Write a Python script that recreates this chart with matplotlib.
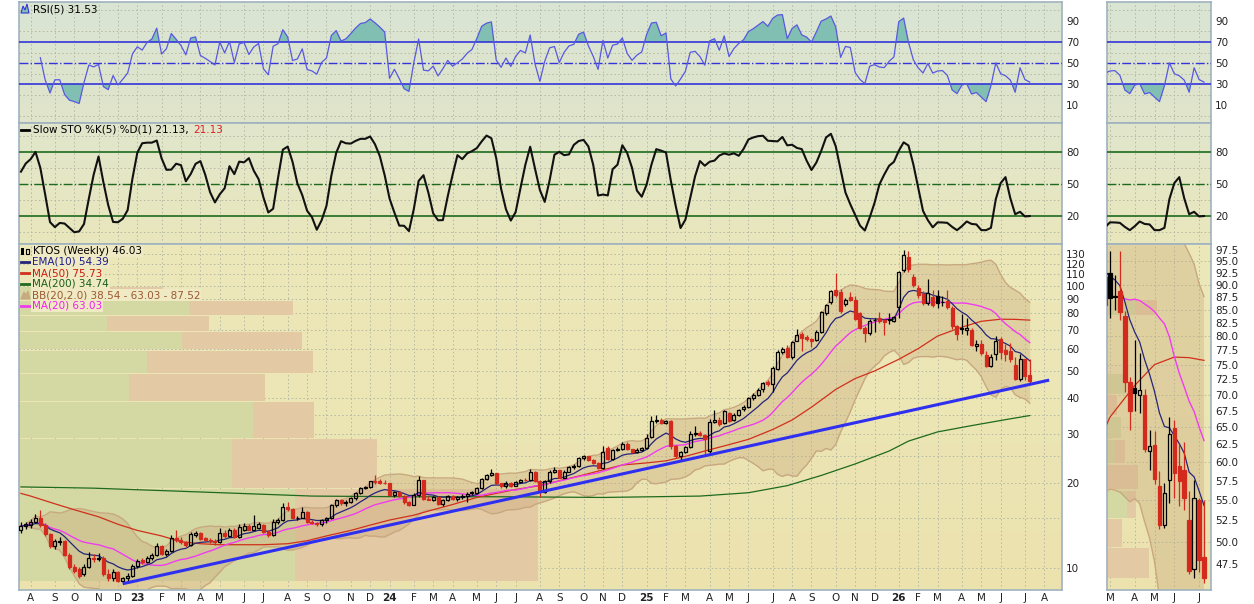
import matplotlib
matplotlib.use("Agg")
import matplotlib.pyplot as plt
import matplotlib.colors as mcolors
import matplotlib.transforms as mtransforms
from matplotlib.lines import Line2D
from matplotlib.patches import Rectangle, Polygon
from matplotlib.ticker import NullLocator
import numpy as np
import pandas as pd

plt.rcParams["font.family"] = ["DejaVu Sans"]

W, H = 1254, 604

# KTOS weekly bars, first bar = week of 2022-07-18
first_week = "2022-07-18"
opens = [
    13.6, 14.1, 14.2, 14.6, 15.1, 14.2, 13.2, 12.0, 12.4, 12.5,
    11.1, 10.1, 9.9, 9.5, 10.1, 10.9, 10.8, 10.9, 9.5, 9.2,
    9.7, 9.0, 9.2, 9.4, 10.2, 10.7, 10.5, 10.9, 11.1, 12.0,
    11.2, 11.5, 12.8, 12.6, 12.4, 12.1, 13.1, 13.3, 12.8, 12.6,
    12.5, 12.4, 13.3, 13.0, 13.6, 12.9, 13.6, 14.1, 13.7, 13.9,
    14.2, 13.4, 13.1, 14.6, 14.8, 16.5, 16.2, 15.0, 15.1, 15.8,
    14.6, 14.5, 14.3, 14.8, 15.0, 16.7, 17.4, 17.0, 17.2, 17.7,
    18.4, 19.2, 19.4, 20.4, 20.3, 20.1, 20.0, 18.2, 18.6, 18.0,
    17.1, 16.8, 18.1, 20.5, 17.6, 17.5, 17.9, 16.9, 17.4, 18.0,
    17.6, 17.8, 18.0, 18.6, 18.5, 19.2, 20.7, 21.4, 21.7, 20.0,
    19.5, 20.1, 19.6, 20.2, 20.6, 20.5, 22.0, 20.4, 18.6, 20.3,
    22.0, 22.2, 20.9, 22.0, 22.8, 23.0, 24.5, 24.9, 24.2, 23.6,
    22.7, 26.6, 24.3, 26.3, 26.5, 27.6, 26.4, 25.8, 26.3, 26.6,
    29.2, 33.2, 33.6, 32.6, 33.3, 27.0, 24.9, 25.8, 26.8, 30.0,
    30.2, 29.6, 26.0, 33.0, 33.6, 32.6, 35.6, 33.4, 35.0, 36.6,
    37.3, 40.0, 41.2, 43.0, 45.6, 45.0, 51.0, 58.5, 60.3, 56.0,
    64.0, 67.4, 65.8, 64.8, 64.3, 68.8, 80.0, 87.5, 97.0, 95.5,
    86.5, 91.8, 89.4, 80.0, 71.3, 68.2, 75.5, 77.2, 75.6, 75.5,
    75.4, 84.5, 114.0, 127.0, 108.0, 98.8, 94.0, 87.0, 91.6, 92.5,
    87.8, 88.7, 83.9, 72.0, 71.1, 70.0, 70.0, 61.5, 62.4, 56.8,
    52.0, 57.6, 64.8, 59.5, 58.9, 52.5, 47.0, 55.0, 48.3,
]
highs = [
    14.6, 14.6, 14.9, 15.5, 16.1, 14.4, 13.3, 12.7, 12.9, 12.6,
    11.3, 10.3, 10.1, 10.3, 11.4, 11.2, 11.3, 11.0, 9.9, 9.9,
    9.8, 9.3, 9.6, 10.3, 10.8, 10.9, 11.0, 11.3, 12.3, 12.1,
    11.7, 13.1, 13.6, 12.9, 12.5, 13.4, 13.5, 13.4, 12.9, 12.8,
    12.7, 13.9, 13.6, 13.9, 13.9, 14.3, 14.4, 14.3, 15.4, 14.6,
    14.3, 13.6, 14.9, 15.0, 17.0, 17.2, 16.3, 15.3, 16.4, 15.9,
    14.8, 14.6, 14.9, 15.2, 16.9, 17.6, 17.6, 17.5, 17.9, 18.6,
    19.4, 19.6, 20.4, 21.3, 20.7, 20.5, 20.1, 18.8, 18.8, 18.1,
    17.3, 18.4, 21.2, 20.6, 18.0, 18.0, 18.0, 17.6, 18.1, 18.2,
    18.0, 18.3, 18.6, 18.8, 19.4, 20.8, 21.5, 22.4, 21.8, 20.1,
    20.3, 20.2, 20.4, 20.7, 20.9, 22.4, 22.1, 20.5, 20.5, 22.2,
    22.8, 22.3, 22.2, 23.1, 23.3, 24.8, 25.2, 25.0, 24.3, 23.7,
    27.2, 27.0, 26.5, 26.8, 28.0, 27.9, 26.5, 26.6, 26.9, 30.0,
    34.5, 35.0, 34.0, 33.6, 33.5, 27.4, 26.0, 27.2, 30.6, 31.8,
    30.7, 29.9, 33.8, 36.4, 34.3, 36.4, 35.8, 35.4, 36.8, 37.8,
    40.4, 41.6, 43.4, 45.6, 46.6, 52.0, 59.5, 61.0, 62.0, 64.0,
    70.2, 68.6, 67.0, 65.4, 70.0, 81.5, 86.5, 96.5, 111.0, 97.5,
    91.0, 95.0, 92.0, 81.0, 72.0, 76.4, 77.2, 80.8, 76.5, 80.5,
    78.6, 113.5, 134.0, 133.5, 110.0, 101.0, 96.0, 106.0, 97.0, 97.2,
    92.0, 97.2, 84.8, 72.9, 79.4, 77.0, 71.0, 64.6, 64.4, 58.8,
    57.2, 66.5, 66.0, 62.5, 62.8, 56.2, 57.6, 55.2, 55.0,
]
lows = [
    13.3, 13.8, 13.9, 14.4, 14.0, 13.0, 11.8, 11.7, 12.1, 11.0,
    9.9, 9.6, 9.2, 9.4, 10.0, 10.5, 10.6, 9.4, 9.0, 9.0,
    8.9, 8.8, 9.0, 9.3, 10.0, 10.3, 10.4, 10.7, 11.0, 11.1,
    11.0, 11.4, 12.4, 12.2, 11.9, 12.0, 12.9, 12.6, 12.4, 12.3,
    12.1, 12.3, 12.8, 12.9, 12.8, 12.8, 13.5, 13.6, 13.6, 13.8,
    13.3, 12.9, 13.0, 14.3, 14.7, 16.0, 14.9, 14.8, 15.0, 14.5,
    14.3, 14.1, 14.1, 14.5, 14.9, 16.5, 16.8, 16.6, 17.0, 17.5,
    18.3, 19.0, 19.2, 19.9, 19.9, 19.8, 18.0, 17.9, 17.8, 16.9,
    16.6, 16.7, 17.9, 17.5, 17.4, 17.3, 16.8, 16.6, 17.3, 17.4,
    17.3, 17.6, 17.2, 18.2, 18.3, 19.1, 20.5, 21.2, 19.9, 19.3,
    19.3, 19.4, 19.5, 20.0, 20.3, 20.4, 20.2, 17.9, 18.4, 20.1,
    21.7, 20.8, 20.8, 21.9, 22.5, 22.9, 24.2, 24.0, 23.4, 22.5,
    22.5, 24.1, 24.1, 26.0, 26.2, 26.2, 25.6, 25.6, 26.1, 26.4,
    29.0, 32.8, 32.4, 32.3, 26.5, 24.6, 24.0, 25.5, 26.6, 29.5,
    29.4, 25.4, 25.2, 32.6, 32.0, 32.4, 33.0, 33.2, 34.6, 36.2,
    37.0, 39.6, 40.6, 42.0, 44.4, 42.0, 50.5, 57.4, 55.5, 55.2,
    63.6, 59.0, 64.0, 60.6, 63.8, 68.2, 79.0, 86.4, 91.5, 80.5,
    85.0, 88.4, 76.0, 70.4, 63.2, 67.0, 69.0, 74.0, 67.0, 73.5,
    74.6, 77.0, 112.0, 112.5, 99.0, 90.5, 86.0, 86.0, 84.0, 83.5,
    85.0, 83.1, 70.5, 64.6, 67.4, 67.2, 61.4, 58.9, 57.0, 51.5,
    51.6, 54.6, 55.3, 54.2, 53.8, 46.4, 46.0, 46.6, 45.5,
]
closes = [
    14.1, 14.3, 14.6, 15.1, 14.2, 13.2, 12.0, 12.5, 12.5, 11.1,
    10.1, 9.8, 9.4, 10.1, 10.9, 10.8, 10.9, 9.5, 9.2, 9.7,
    9.0, 9.2, 9.4, 10.2, 10.6, 10.5, 10.9, 11.1, 12.0, 11.2,
    11.5, 12.8, 12.6, 12.4, 12.1, 13.2, 13.3, 12.7, 12.6, 12.5,
    12.4, 13.3, 13.0, 13.6, 12.9, 14.0, 14.1, 13.7, 14.1, 14.3,
    13.4, 13.1, 14.6, 14.8, 16.5, 16.2, 15.0, 15.1, 15.8, 14.6,
    14.5, 14.3, 14.8, 15.0, 16.7, 17.4, 17.0, 17.2, 17.7, 18.4,
    19.2, 19.4, 20.3, 20.2, 20.1, 20.0, 18.2, 18.6, 18.0, 17.1,
    16.8, 18.1, 20.5, 17.6, 17.5, 17.9, 16.9, 17.4, 18.0, 17.6,
    17.8, 18.0, 18.3, 18.5, 19.2, 20.7, 21.4, 21.7, 20.0, 19.5,
    20.1, 19.6, 20.2, 20.6, 20.5, 22.0, 20.4, 18.6, 20.3, 22.0,
    22.2, 20.9, 22.0, 22.8, 23.0, 24.5, 24.9, 24.2, 23.6, 22.7,
    25.9, 24.3, 26.3, 26.5, 27.6, 26.4, 25.8, 26.3, 26.6, 29.0,
    33.2, 33.6, 32.6, 33.3, 27.0, 24.9, 25.8, 26.8, 30.0, 30.2,
    29.6, 28.6, 33.0, 33.6, 32.4, 36.0, 33.2, 35.0, 36.3, 37.3,
    40.0, 41.2, 42.9, 45.2, 44.8, 51.2, 58.5, 59.8, 56.0, 63.2,
    67.2, 65.2, 64.8, 64.0, 68.8, 80.7, 85.6, 95.7, 92.8, 81.8,
    89.6, 89.2, 76.6, 71.3, 67.9, 75.3, 76.0, 75.0, 74.8, 76.5,
    77.7, 112.0, 129.0, 115.0, 100.8, 92.7, 87.4, 94.6, 86.0, 87.3,
    87.5, 84.6, 72.0, 67.4, 70.3, 70.8, 61.8, 62.2, 57.7, 51.9,
    55.9, 64.0, 58.5, 57.4, 55.2, 46.8, 55.2, 47.9, 46.03,
]

# moving averages (bar index, value)
ma50_bars = [0, 2, 7, 11, 16, 20, 24, 29, 33, 37, 41, 46, 50, 55, 59, 63, 68, 72,
             76, 81, 85, 89, 94, 98, 102, 107, 111, 116, 120, 124, 129, 133, 137,
             141, 146, 150, 155, 159, 163, 168, 172, 176, 181, 185, 189, 194, 198,
             202, 205, 208]
ma50_vals = [18.4, 18.0, 16.9, 16.1, 15.2, 14.3, 13.6, 13.0, 12.4, 12.2, 12.1, 12.1,
             12.1, 12.2, 12.5, 13.0, 13.6, 14.2, 14.8, 15.4, 16.1, 16.8, 17.8, 18.4,
             19.0, 19.6, 20.4, 21.4, 22.3, 23.2, 23.6, 24.0, 24.9, 26.0, 27.4, 28.6,
             31.0, 33.5, 37.2, 43.0, 47.0, 50.0, 55.0, 60.0, 66.5, 71.5, 75.0, 76.3,
             76.2, 75.73]
ma200_bars = [0, 15, 30, 45, 60, 80, 100, 120, 140, 150, 158, 165, 172, 179, 183,
              189, 196, 203, 208]
ma200_vals = [19.4, 19.2, 18.8, 18.4, 18.0, 17.9, 17.9, 17.8, 18.0, 18.5, 19.6, 21.3,
              23.4, 26.0, 28.2, 30.4, 32.0, 33.6, 34.74]

# trend line drawn on the chart
trend_bars = [21, 212]
trend_vals = [8.8, 46.4]

# volume by price, main chart: price band, up and down volume
vbp_lo = [9.0, 19.2, 28.9, 39.1, 49.1, 59.8, 69.1, 78.8, 89.2]
vbp_hi = [19.1, 28.6, 38.8, 48.8, 58.8, 68.6, 78.2, 88.5, 99.2]
vbp_up = [276, 213, 234, 110, 128, 163, 88, 170, 78]
vbp_dn = [243, 145, 61, 136, 166, 120, 102, 104, 66]

# volume by price, zoomed chart of the last 20 weeks
zvbp_lo = [46.0, 49.4, 52.8, 56.4, 59.9, 63.4, 66.8, 70.1, 84.0]
zvbp_hi = [49.3, 52.7, 56.1, 59.6, 63.1, 66.5, 70.0, 73.4, 87.0]
zvbp_up = [0, 0, 20, 0, 8, 14, 0, 18, 28]
zvbp_dn = [42, 15, 9, 31, 10, 0, 10, 0, 22]

rsi_ticks = [10, 30, 50, 70, 90]
sto_ticks = [20, 50, 80]
price_ticks = [10, 20, 30, 40, 50, 60, 70, 80, 90, 100, 110, 120, 130]
zoom_ticks = [47.5, 50.0, 52.5, 55.0, 57.5, 60.0, 62.5, 65.0, 67.5, 70.0, 72.5,
              75.0, 77.5, 80.0, 82.5, 85.0, 87.5, 90.0, 92.5, 95.0, 97.5]

# ---- indicators
n = len(closes)
x = np.arange(n)
cl = pd.Series(closes)
ema10 = cl.ewm(span=10, adjust=False).mean()
ma20 = cl.rolling(20, min_periods=1).mean()
sd20 = cl.rolling(20, min_periods=2).std(ddof=0)
bb_up = ma20 + 2 * sd20
bb_lo = ma20 - 2 * sd20
delta = cl.diff()
gain = delta.clip(lower=0).ewm(alpha=0.2, adjust=False).mean()
loss = (-delta.clip(upper=0)).ewm(alpha=0.2, adjust=False).mean()
rsi = 100 - 100 / (1 + gain / loss)
rsi[:4] = np.nan  # not enough history before the first down week
hh = pd.Series(highs).rolling(5, min_periods=1).max()
ll = pd.Series(lows).rolling(5, min_periods=1).min()
sto = ((cl - ll) / (hh - ll) * 100).rolling(3, min_periods=1).mean()

weeks = pd.date_range(first_week, periods=n + 10, freq="7D")

RED = "#d42a1e"
GRID = "#b4b8a4"
BORDER = "#9fb2bf"
DOT = (0, (1.5, 2.5))

fig = plt.figure(figsize=(W / 100, H / 100), dpi=100)
fig.patch.set_facecolor("white")


def box(x0, y0, x1, y1):
    return [x0 / W, 1 - y1 / H, (x1 - x0) / W, (y1 - y0) / H]


def panel(xr, yr, top, bottom):
    bg = fig.add_axes(box(xr[0], yr[0], xr[1], yr[1]))
    c0 = np.array(mcolors.to_rgb(top))
    c1 = np.array(mcolors.to_rgb(bottom))
    g = np.linspace(0, 1, 64)[:, None, None]
    bg.imshow(c0 + (c1 - c0) * g, aspect="auto", extent=(0, 1, 0, 1))
    bg.axis("off")
    ax = fig.add_axes(box(xr[0], yr[0], xr[1], yr[1]))
    ax.patch.set_alpha(0)
    for s in ax.spines.values():
        s.set_color(BORDER)
        s.set_linewidth(1.2)
    ax.yaxis.tick_right()
    ax.tick_params(length=0, labelsize=7.5, pad=3, colors="#222222")
    return ax


def month_ticks(lo, hi):
    out = []
    for i in range(max(lo, 1), hi + 1):
        if weeks[i].month != weeks[i - 1].month:
            m = weeks[i].month
            lab = f"{weeks[i].year % 100:02d}" if m == 1 else "JFMAMJJASOND"[m - 1]
            out.append((i, lab, m == 1))
    return out


def vgrid(ax, ticks):
    for b, _, _ in ticks:
        ax.axvline(b, color=GRID, lw=0.7, ls=DOT, zorder=0.5)


def hgrid(ax, levels):
    for v in levels:
        ax.axhline(v, color=GRID, lw=0.7, ls=DOT, zorder=0.5)


def draw_candles(ax, lo, hi, width):
    for i in range(lo, hi + 1):
        o, h, l, c = opens[i], highs[i], lows[i], closes[i]
        prev = closes[i - 1] if i > 0 else o
        col = RED if c < prev else "black"
        top, bot = max(o, c), min(o, c)
        ax.vlines(i, top, h, color=col, lw=0.9, zorder=5)
        ax.vlines(i, l, bot, color=col, lw=0.9, zorder=5)
        ax.add_patch(Rectangle((i - width / 2, bot), width, top - bot,
                               facecolor=col if c < o else "none",
                               edgecolor=col, lw=0.9, zorder=5))


def draw_vbp(ax, lo, hi, up, dn, width_px):
    tr = mtransforms.blended_transform_factory(ax.transAxes, ax.transData)
    for a, b, u, d in zip(lo, hi, up, dn):
        if u:
            ax.add_patch(Rectangle((0, a), u / width_px, b - a, transform=tr,
                                   facecolor="#d4d8a2", lw=0, zorder=1))
        if d:
            ax.add_patch(Rectangle((u / width_px, a), d / width_px, b - a, transform=tr,
                                   facecolor="#e4caa4", lw=0, zorder=1))


def rsi_panel(xr, xlim, ticks):
    ax = panel(xr, (2, 123), "#d9e4d4", "#e0e5ca")
    ax.set_ylim(-7, 108)
    hgrid(ax, [0, 20, 40, 60, 80, 100])
    vgrid(ax, ticks)
    ax.fill_between(x, rsi, 70, where=rsi > 70, interpolate=True, color="#80bfb2", lw=0, zorder=2)
    ax.fill_between(x, rsi, 30, where=rsi < 30, interpolate=True, color="#80bfb2", lw=0, zorder=2)
    ax.axhline(70, color="#3434d8", lw=1.2, zorder=3)
    ax.axhline(30, color="#3434d8", lw=1.2, zorder=3)
    ax.axhline(50, color="#3434d8", lw=1.0, ls="-.", zorder=3)
    ax.plot(x, rsi, color="#5858e0", lw=0.9, zorder=4)
    ax.set_yticks(rsi_ticks)
    ax.set_xticks([])
    ax.set_xlim(*xlim)
    return ax


def sto_panel(xr, xlim, ticks):
    ax = panel(xr, (123, 244), "#e1e6cc", "#e9e6bc")
    ax.set_ylim(-6, 107)
    hgrid(ax, [5, 35, 65, 95])
    vgrid(ax, ticks)
    ax.axhline(80, color="#1d6a1d", lw=1.2, zorder=3)
    ax.axhline(20, color="#1d6a1d", lw=1.2, zorder=3)
    ax.axhline(50, color="#1d6a1d", lw=1.0, ls="-.", zorder=3)
    ax.plot(x, sto, color="#111111", lw=1.5, zorder=4)
    ax.set_yticks(sto_ticks)
    ax.set_xticks([])
    ax.set_xlim(*xlim)
    return ax


def price_panel(xr, xlim, ylim, yt, ylabels, ticks, vbp, width, hlevels):
    ax = panel(xr, (244, 590), "#ede8ba", "#ebe2ae")
    ax.set_yscale("log")
    ax.set_ylim(*ylim)
    hgrid(ax, hlevels)
    vgrid(ax, ticks)
    draw_vbp(ax, *vbp, xr[1] - xr[0])
    ax.fill_between(x, bb_lo, bb_up, color="#c6a476", alpha=0.33, lw=0, zorder=2)
    ax.plot(x, bb_up, color="#c8a880", lw=1.0, zorder=2.5)
    ax.plot(x, bb_lo, color="#c8a880", lw=1.0, zorder=2.5)
    ax.plot(ma200_bars, ma200_vals, color="#1e6a1e", lw=0.9, zorder=3)
    ax.plot(ma50_bars, ma50_vals, color="#d0301c", lw=0.9, zorder=3)
    ax.plot(x, ma20, color="#f03cf0", lw=1.0, zorder=3)
    ax.plot(x, ema10, color="#24247a", lw=0.9, zorder=4)
    draw_candles(ax, max(0, int(xlim[0])), n - 1, width)
    ax.set_yticks(yt)
    ax.set_yticklabels(ylabels)
    ax.yaxis.set_minor_locator(NullLocator())
    ax.set_xticks([b for b, _, _ in ticks])
    ax.set_xticklabels([t for _, t, _ in ticks])
    for lab, (_, _, yr) in zip(ax.get_xticklabels(), ticks):
        if yr:
            lab.set_fontweight("bold")
    ax.tick_params(axis="x", pad=2)
    ax.set_xlim(*xlim)
    return ax


MAIN = (19, 1062)
ZOOM = (1107, 1211)
main_xlim = (-0.4, -0.4 + (MAIN[1] - MAIN[0]) / 4.85)
zoom_xlim = (188.4, 188.4 + (ZOOM[1] - ZOOM[0]) / 4.95)
main_ticks = month_ticks(1, int(main_xlim[1]))
zoom_ticks_x = month_ticks(189, int(zoom_xlim[1]))

rsi_panel(MAIN, main_xlim, main_ticks)
sto_panel(MAIN, main_xlim, main_ticks)
axp = price_panel(MAIN, main_xlim, (8.36, 141), price_ticks, [str(v) for v in price_ticks],
                  main_ticks, (vbp_lo, vbp_hi, vbp_up, vbp_dn), 0.62,
                  [10, 15, 20, 25, 30, 35, 40, 50, 60, 70, 80, 90, 100, 110, 120, 130])
axp.plot(trend_bars, trend_vals, color="#2f2ff0", lw=2.2, zorder=6, solid_capstyle="butt")

rsi_panel(ZOOM, zoom_xlim, zoom_ticks_x)
sto_panel(ZOOM, zoom_xlim, zoom_ticks_x)
price_panel(ZOOM, zoom_xlim, (44.76, 98.85), zoom_ticks, [f"{v:.1f}" for v in zoom_ticks],
            zoom_ticks_x, (zvbp_lo, zvbp_hi, zvbp_up, zvbp_dn), 0.7,
            [50, 55, 60, 65, 70, 75, 80, 85, 90, 95])


# ---- legends (pixel positions, top-left origin)
def ftext(px, py, s, color="black", **kw):
    return fig.text(px / W, 1 - py / H, s, color=color, fontsize=7.5, va="center", ha="left", **kw)


def fline(x0, x1, py, color):
    fig.add_artist(Line2D([x0 / W, x1 / W], [1 - py / H, 1 - py / H], color=color, lw=2,
                          transform=fig.transFigure))


def fpoly(pts, fc, ec):
    fig.add_artist(Polygon([(a / W, 1 - b / H) for a, b in pts], closed=True, facecolor=fc,
                           edgecolor=ec, lw=0.8, transform=fig.transFigure))


fpoly([(21, 13), (23, 6), (25, 10), (27, 4), (29, 13)], "#80bfb2", "#3434d8")
ftext(33, 9, "RSI(5) 31.53")

fline(21, 29, 130, "black")
t1 = ftext(33, 130, "Slow STO %K(5) %D(1) 21.13,")
bb = t1.get_window_extent(renderer=fig.canvas.get_renderer())
ftext(bb.x1 + 5, 130, "21.13", color="#e02020")

LEG_BG = dict(facecolor="#efeac4", edgecolor="none", pad=0.6)
fig.add_artist(Rectangle((21 / W, 1 - 255 / H), 3 / W, 7 / H, facecolor="black", transform=fig.transFigure))
fig.add_artist(Rectangle((26 / W, 1 - 254 / H), 3 / W, 5 / H, facecolor="none", edgecolor="black",
                         lw=0.8, transform=fig.transFigure))
ftext(33, 251, "KTOS (Weekly) 46.03", bbox=LEG_BG)
fline(21, 30, 262, "#24247a")
ftext(32, 262, "EMA(10) 54.39", color="#1c1c8c", bbox=LEG_BG)
fline(21, 30, 273, "#d0301c")
ftext(32, 273, "MA(50) 75.73", color="#cc1a0a", bbox=LEG_BG)
fline(21, 30, 284, "#1e6a1e")
ftext(32, 284, "MA(200) 34.74", color="#1a5e1a", bbox=LEG_BG)
fpoly([(21, 299), (24, 292), (26, 295), (28, 291), (30, 299)], "#c8aa82", "#c8aa82")
ftext(32, 295, "BB(20,2.0) 38.54 - 63.03 - 87.52", color="#9a5a34", bbox=LEG_BG)
fline(21, 30, 306, "#f03cf0")
ftext(32, 306, "MA(20) 63.03", color="#f020f0", bbox=LEG_BG)

fig.savefig("out.png", dpi=100, facecolor="white")
